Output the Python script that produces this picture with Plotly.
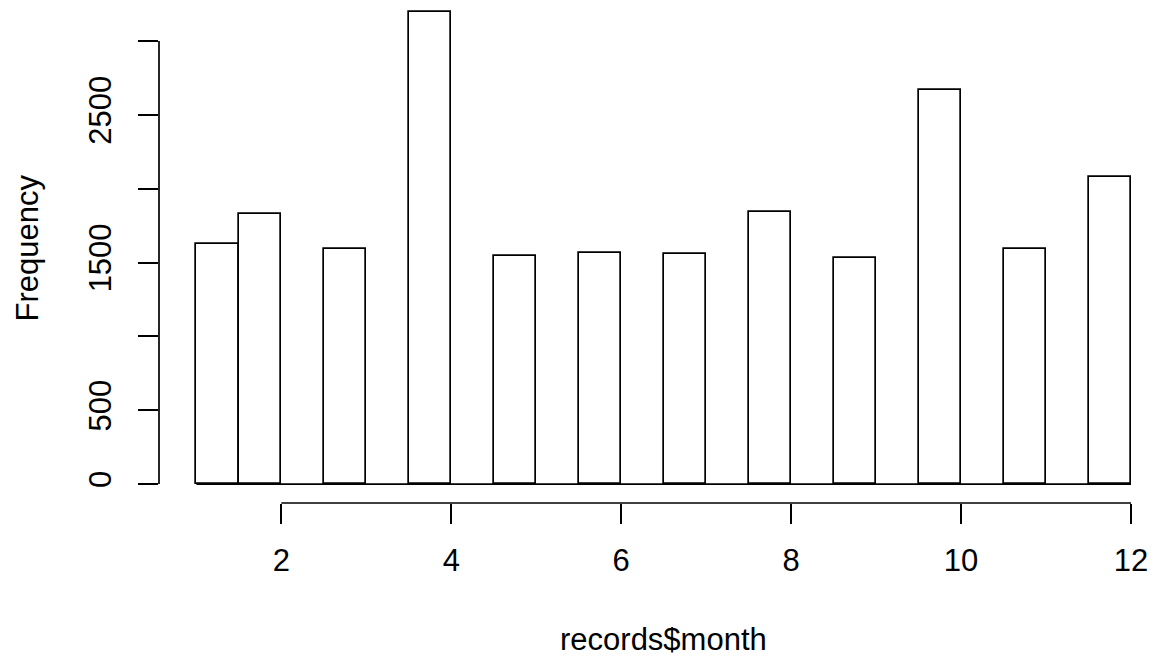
import plotly.graph_objects as go

months = [1, 2, 3, 4, 5, 6, 7, 8, 9, 10, 11, 12]
counts = [1628, 1831, 1590, 3196, 1545, 1565, 1557, 1843, 1534, 2668, 1590, 2078]
x_ticks = [2, 4, 6, 8, 10, 12]
y_ticks = [0, 500, 1000, 1500, 2000, 2500, 3000]
y_ticklabels = ["0", "500", "", "1500", "", "2500", ""]
x_title = "records$month"
y_title = "Frequency"

# R default breaks (Sturges) for 1..12 are 1, 1.5, ..., 12 ; right-closed, include.lowest
bin_w = 0.5
lefts, rights = [], []
for m in months:
    if m == months[0]:
        lefts.append(m); rights.append(m + bin_w)
    else:
        lefts.append(m - bin_w); rights.append(m)
centers = [(a + b) / 2 for a, b in zip(lefts, rights)]

# ---- layout geometry (R plot region, partly outside the page) ----
W, H = 1153, 656
FONT = "Liberation Sans, Arial, Helvetica, sans-serif"
FS = 31
LW = 1.7

x_min, x_max = min(lefts), max(rights)
y_max = max(counts)
usr_x0 = x_min - 0.04 * (x_max - x_min)
usr_x1 = x_max + 0.04 * (x_max - x_min)
usr_y0 = -0.04 * y_max
usr_y1 = y_max + 0.04 * y_max

plot_left, plot_right = 158.6, 1168.4
plot_top, plot_bottom = -6.9, 503.2

ppx = (plot_right - plot_left) / (usr_x1 - usr_x0)
ppy = (plot_bottom - plot_top) / (usr_y1 - usr_y0)

ml, mb = plot_left, H - plot_bottom
xr = [usr_x0, usr_x0 + (W - ml) / ppx]
yr = [usr_y0, usr_y0 + (H - mb) / ppy]

fig = go.Figure()
fig.add_trace(go.Bar(
    x=centers, y=counts, width=bin_w,
    marker=dict(color="white", line=dict(color="black", width=LW)),
    hoverinfo="x+y", showlegend=False,
))

shapes = [
    # baseline of histogram (empty bins are drawn as zero-height rects in R)
    dict(type="line", xref="x", yref="y", x0=x_min, x1=x_max, y0=0, y1=0,
         line=dict(color="black", width=LW)),
    # x axis line from first to last tick
    dict(type="line", xref="x", yref="paper", x0=x_ticks[0], x1=x_ticks[-1], y0=0, y1=0,
         line=dict(color="black", width=LW)),
    # y axis line from first to last tick
    dict(type="line", xref="paper", yref="y", x0=0, x1=0, y0=y_ticks[0], y1=y_ticks[-1],
         line=dict(color="black", width=LW)),
]

annotations = [
    dict(text=x_title, xref="x", yref="paper", x=(usr_x0 + usr_x1) / 2, y=0,
         yanchor="middle", xanchor="center", yshift=-(640 - plot_bottom),
         showarrow=False, font=dict(family=FONT, size=FS, color="black")),
    dict(text=y_title, xref="paper", yref="y", x=0, y=(usr_y0 + usr_y1) / 2,
         xanchor="center", yanchor="middle", xshift=-(plot_left - 27), textangle=-90,
         showarrow=False, font=dict(family=FONT, size=FS, color="black")),
]

fig.update_layout(
    width=W, height=H,
    margin=dict(l=ml, r=0, t=0, b=mb, pad=0),
    paper_bgcolor="white", plot_bgcolor="white",
    font=dict(family=FONT, size=FS, color="black"),
    shapes=shapes, annotations=annotations,
    bargap=0,
    xaxis=dict(range=xr, tickvals=x_ticks, ticktext=[str(v) for v in x_ticks],
               ticks="outside", ticklen=20, tickwidth=LW, tickcolor="black",
               showline=False, showgrid=False, zeroline=False,
               ticklabelstandoff=10,
               tickfont=dict(family=FONT, size=FS, color="black")),
    yaxis=dict(range=yr, tickvals=y_ticks, ticktext=y_ticklabels,
               ticks="outside", ticklen=20, tickwidth=LW, tickcolor="black",
               showline=False, showgrid=False, zeroline=False,
               tickangle=-90, ticklabelstandoff=15,
               tickfont=dict(family=FONT, size=FS, color="black")),
)

fig.write_html("out.html", config={"displayModeBar": False},
               post_script="document.body.style.margin='0';document.body.style.overflow='hidden';")
